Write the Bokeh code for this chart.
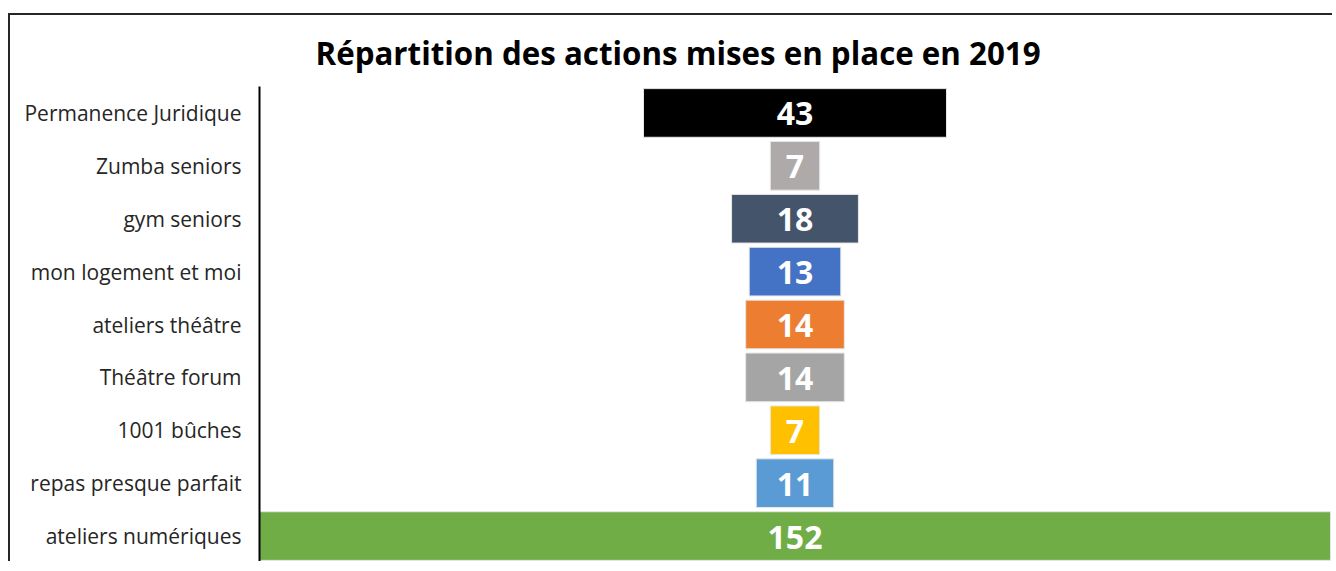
from bokeh.plotting import figure
from bokeh.models import ColumnDataSource, Range1d, FactorRange
from bokeh.core.properties import value
from bokeh.embed import file_html
from bokeh.resources import INLINE

title_text = "Répartition des actions mises en place en 2019"
categories = ["Permanence Juridique", "Zumba seniors", "gym seniors", "mon logement et moi",
              "ateliers théâtre", "Théâtre forum", "1001 bûches", "repas presque parfait",
              "ateliers numériques"]
counts = [43, 7, 18, 13, 14, 14, 7, 11, 152]
colors = ["#000000", "#AEAAAA", "#44546A", "#4472C4", "#ED7D31", "#A5A5A5", "#FFC000",
          "#5B9BD5", "#70AD47"]

half = max(counts) / 2
src = ColumnDataSource(dict(
    cat=categories,
    left=[-c / 2 for c in counts],
    right=[c / 2 for c in counts],
    color=colors,
    label=[str(c) for c in counts],
    zero=[0] * len(counts),
))

p = figure(width=1324, height=548, output_backend="svg", toolbar_location=None,
           x_range=Range1d(-half, half),
           y_range=FactorRange(factors=list(reversed(categories)), range_padding=0),
           min_border_left=249, min_border_right=4, min_border_top=71, min_border_bottom=1,
           title=title_text)
p.styles = {"border-left": "2px solid #262626", "border-top": "2px solid #262626"}
p.margin = (13, 0, 0, 8)
p.outline_line_color = None
p.background_fill_color = "white"
p.border_fill_color = "white"
p.xgrid.visible = False
p.ygrid.visible = False
p.xaxis.visible = False

p.title.text_font = "Open Sans"
p.title.text_font_style = "bold"
p.title.text_font_size = "31.3px"
p.title.text_color = "#000000"
p.title.align = "left"
p.title.offset = 56
p.title.standoff = 26

yax = p.yaxis[0]
yax.axis_line_color = "#000000"
yax.axis_line_width = 2
yax.major_tick_line_color = None
yax.minor_tick_line_color = None
yax.major_label_text_font = "Open Sans"
yax.major_label_text_font_size = "21px"
yax.major_label_text_color = "#262626"
yax.major_label_standoff = 12

p.hbar(y="cat", left="left", right="right", height=0.92, source=src,
       fill_color="color", line_color="#E6E6E6", line_width=1)

p.text(x="zero", y="cat", text="label", source=src, text_color="white",
       text_font=value("Open Sans"), text_font_style="bold", text_font_size="32px",
       text_align="center", text_baseline="middle", y_offset=1)

open("out.html", "w").write(file_html(p, INLINE))
